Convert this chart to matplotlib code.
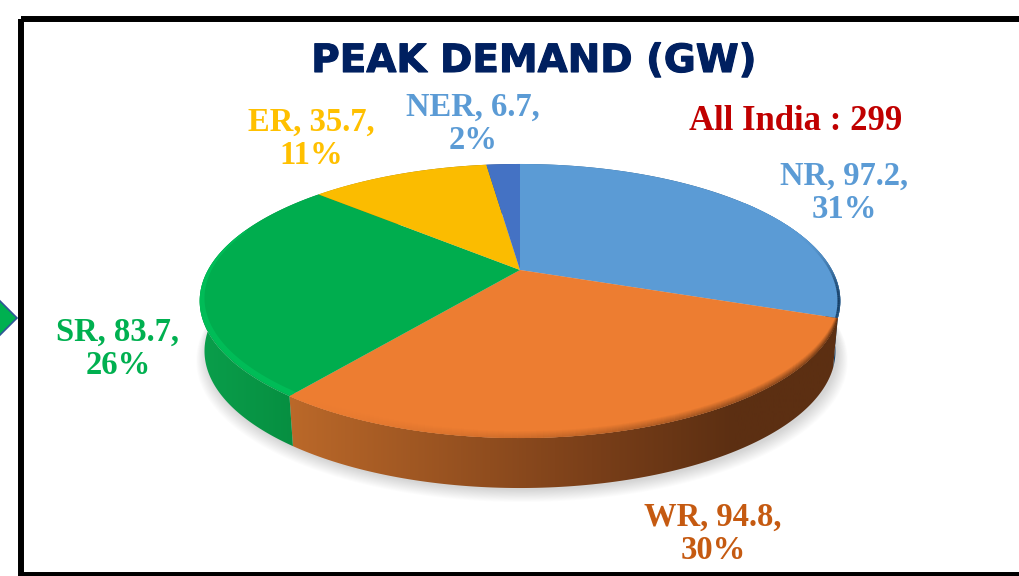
import numpy as np
import matplotlib
matplotlib.use("Agg")
import matplotlib.pyplot as plt
import matplotlib.patheffects as pe
from matplotlib.colors import to_rgb, LinearSegmentedColormap
from matplotlib.patches import Polygon, Rectangle

# ==========================
# Data
# ==========================
regions = ["NR", "WR", "SR", "ER", "NER"]
demand = [97.2, 94.8, 83.7, 35.7, 6.7]
shares = [31, 30, 26, 11, 2]
title = "PEAK DEMAND (GW)"
total_label = "All India : 299"

top_colors = ["#5b9bd5", "#ed7d31", "#00ad4e", "#fbbc00", "#4472c4"]
label_colors = ["#5b9bd5", "#c55a11", "#00b050", "#ffc000", "#5b9bd5"]
side_left = ["#2f6a9c", "#bd6a2a", "#0aa04c", "#b88a00", "#2f5597"]
side_right = ["#173f66", "#5c2f12", "#05893d", "#8a6800", "#203864"]
label_pos = [(844, 193), (713, 534), (118, 349), (311, 139), (473, 124)]

# ==========================
# Pie geometry (pixels)
# ==========================
CX, CY = 520, 270
R, P, C = 312, 68.9, -0.2263
DEPTH = 50


def project(t):
    # tilted disc, t is clockwise from the top
    u, w = np.sin(t), -np.cos(t)
    d = 1 + C * w
    return CX + R * u / d, (CY + P * w) / d


def lower(x, y):
    return CX + (x - CX) * 0.985, y + DEPTH


fig = plt.figure(figsize=(10.19, 5.76), dpi=100)
ax = fig.add_axes([0, 0, 1, 1])
ax.set_xlim(0, 1019)
ax.set_ylim(576, 0)
ax.axis("off")

fracs = np.array(demand) / sum(demand)
edges = np.concatenate([[0], np.cumsum(fracs)]) * 2 * np.pi

# soft shadow under the pie
tt = np.linspace(0, 2 * np.pi, 300)
sx, sy = lower(*project(tt))
for k in range(14):
    g = 1 + 0.0025 * k
    ax.add_patch(Polygon(np.c_[CX + (sx - CX) * g + 2, 320 + (sy - 320) * g + 2 + k * 0.5],
                         fc="#808080", ec="none", alpha=0.025, zorder=1))

# sides
for i in range(len(regions)):
    t = np.linspace(edges[i], edges[i + 1], 120)
    x, y = project(t)
    lx, ly = lower(x, y)
    poly = Polygon(np.c_[np.r_[x, lx[::-1]], np.r_[y, ly[::-1]]], fc="none", ec="none",
                   transform=ax.transData)
    ax.add_patch(poly)
    if regions[i] == "WR":
        # dark already at about two thirds of the arc
        stops = [(0, side_left[i]), (0.55, "#7a3f19"), (0.8, side_right[i]), (1, side_right[i])]
    else:
        stops = [(0, side_left[i]), (1, side_right[i])]
    cmap = LinearSegmentedColormap.from_list("side", stops)
    im = ax.imshow(np.linspace(0, 1, 256)[None, :], cmap=cmap, aspect="auto",
                   extent=[x.min() - 10, x.max() + 10, 576, 0], zorder=2)
    im.set_clip_path(poly)

ax.set_xlim(0, 1019)
ax.set_ylim(576, 0)

# tops
for i in range(len(regions)):
    t = np.linspace(edges[i], edges[i + 1], 120)
    x, y = project(t)
    wedge = Polygon(np.c_[np.r_[CX, x], np.r_[CY, y]], fc=top_colors[i], ec="none", zorder=3)
    ax.add_patch(wedge)

    # bevel along the front rim
    front = (t > np.pi * 0.3) & (t < np.pi * 1.6)
    if front.sum() < 2:
        continue
    fx, fy = x[front], y[front]
    base = np.array(to_rgb(top_colors[i]))
    if regions[i] in ("WR", "NR"):
        pos = (fx - fx.min()) / (fx.max() - fx.min())
        power = 8 if regions[i] == "NR" else 1.5
        c_dark = np.array(to_rgb(side_right[i]))
        for d in np.arange(-6, 3):
            a = (d + 7) / 9
            for j in range(0, len(fx) - 1):
                mix = a * pos[j] ** power
                seg, = ax.plot(fx[j:j + 2] - (d if regions[i] == "NR" else 0),
                               fy[j:j + 2] + (0 if regions[i] == "NR" else d),
                               color=base * (1 - mix) + c_dark * mix,
                               lw=1.2, zorder=4, solid_capstyle="butt")
                seg.set_clip_path(wedge)
    elif regions[i] == "SR":
        seg, = ax.plot(fx + 2, fy - 3, color="#00c05a", lw=4, alpha=0.8, zorder=4)
        seg.set_clip_path(wedge)

# title and labels
ax.text(534, 61, title, color="#002060", fontsize=28, fontweight="bold", family="DejaVu Sans",
        ha="center", va="center", zorder=6,
        path_effects=[pe.withStroke(linewidth=0.8, foreground="#002060")])
ax.text(796, 122, total_label, color="#c00000", fontsize=25, fontweight="bold",
        family="Liberation Serif", ha="center", va="center", zorder=6)
for i in range(len(regions)):
    ax.text(label_pos[i][0], label_pos[i][1], f"{regions[i]}, {demand[i]},\n{shares[i]}%",
            color=label_colors[i], fontsize=23.5, fontweight="bold", family="Liberation Serif",
            ha="center", va="center", linespacing=1.1, zorder=6)

# frame and the arrow tip on the left
ax.add_patch(Rectangle((21, 19), 1000, 556, fc="none", ec="black", lw=4.3, zorder=7))
ax.add_patch(Polygon([(-3, 298), (17, 318), (-3, 338)], fc="#00b050", ec="#2f5597", lw=1.2, zorder=6))

fig.savefig("out.png", dpi=100)
plt.close(fig)
